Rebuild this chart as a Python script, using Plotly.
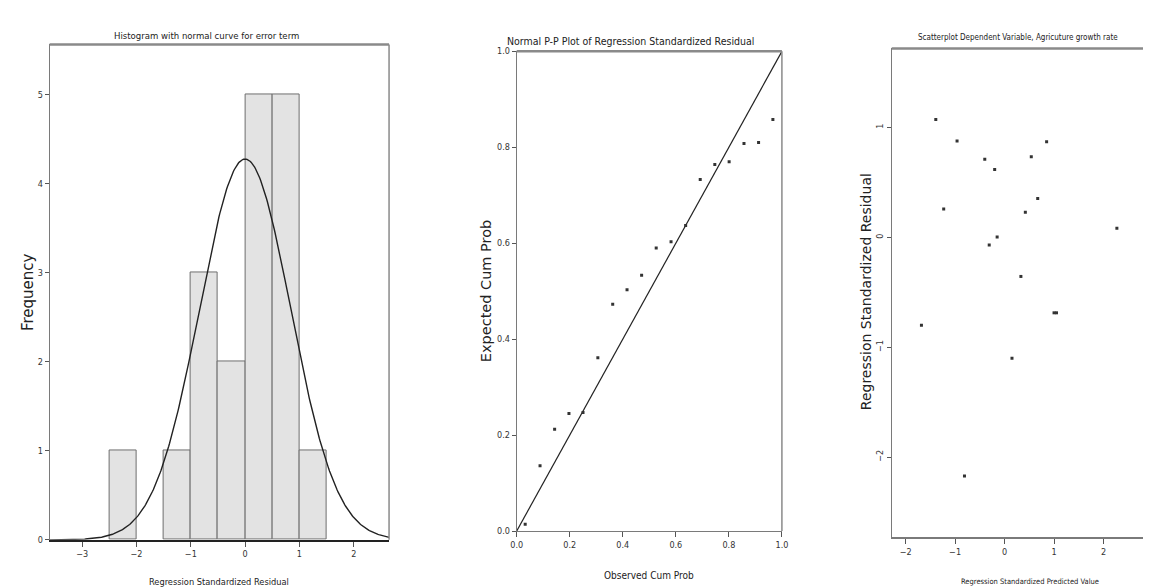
import numpy as np
import plotly.graph_objects as go

W, H = 1151, 587

# ---------- Data ----------
# Histogram of regression standardized residuals
bin_left = [-2.5, -1.5, -1.0, -0.5, 0.0, 0.5, 1.0]
bin_counts = [1, 1, 3, 2, 5, 5, 1]
bin_width = 0.5
resid_mean = 0.0
resid_sd = 0.84
n_obs = 18

# Normal P-P plot
pp_observed = [0.032, 0.088, 0.143, 0.197, 0.250, 0.306, 0.362, 0.416, 0.471,
               0.526, 0.582, 0.637, 0.692, 0.747, 0.801, 0.857, 0.912, 0.966]
pp_expected = [0.014, 0.136, 0.212, 0.245, 0.247, 0.361, 0.473, 0.503, 0.533,
               0.590, 0.603, 0.637, 0.733, 0.764, 0.770, 0.808, 0.810, 0.858]

# Scatterplot: standardized predicted vs standardized residual
pred_std = [-1.39, -0.96, -0.40, -0.20, 0.54, 0.85, -1.23, 0.67, 0.42, -0.15,
            -0.31, 2.27, 0.33, 1.00, 1.05, -1.68, 0.15, -0.81]
resid_std = [1.073, 0.877, 0.712, 0.617, 0.733, 0.870, 0.259, 0.354, 0.229, 0.005,
             -0.069, 0.083, -0.355, -0.686, -0.686, -0.80, -1.10, -2.17]

hist_xticks = [-3, -2, -1, 0, 1, 2]
hist_yticks = [0, 1, 2, 3, 4, 5]
pp_ticks = [0.0, 0.2, 0.4, 0.6, 0.8, 1.0]
sc_xticks = [-2, -1, 0, 1, 2]
sc_yticks = [-2, -1, 0, 1]

# ---------- Layout helpers ----------
def px_x(p):
    return p / W

def px_y(p):
    return (H - p) / H

NARROW = "DejaVu Sans Condensed, Liberation Sans Narrow, Arial Narrow, Liberation Sans, sans-serif"
SANS = "DejaVu Sans, Liberation Sans, Arial, sans-serif"
AX = "#7a7a7a"
DARK = "#222222"

fig = go.Figure()

# Panel 1: histogram
bar_x = [l + bin_width / 2 for l in bin_left]
fig.add_trace(go.Bar(x=bar_x, y=bin_counts, width=[bin_width] * len(bin_counts),
                     marker=dict(color="#e3e3e3", line=dict(color="#6e6e6e", width=1)),
                     xaxis="x", yaxis="y", showlegend=False, hoverinfo="x+y"))
xs = np.linspace(-3.6, 2.65, 400)
ys = n_obs * bin_width / (resid_sd * np.sqrt(2 * np.pi)) * np.exp(-0.5 * ((xs - resid_mean) / resid_sd) ** 2)
fig.add_trace(go.Scatter(x=xs, y=ys, mode="lines", line=dict(color=DARK, width=1.4),
                         xaxis="x", yaxis="y", showlegend=False, hoverinfo="skip"))

# Panel 2: P-P plot
fig.add_trace(go.Scatter(x=[0, 1], y=[0, 1], mode="lines", line=dict(color=DARK, width=1.2),
                         xaxis="x2", yaxis="y2", showlegend=False, hoverinfo="skip"))
fig.add_trace(go.Scatter(x=pp_observed, y=pp_expected, mode="markers",
                         marker=dict(symbol="square", size=3, color="#333333"),
                         xaxis="x2", yaxis="y2", showlegend=False))

# Panel 3: scatterplot
fig.add_trace(go.Scatter(x=pred_std, y=resid_std, mode="markers",
                         marker=dict(symbol="square", size=3, color="#333333"),
                         xaxis="x3", yaxis="y3", showlegend=False))

tickfont = dict(family=NARROW, size=9, color="#333333")

def xaxis(domain, rng, ticks, linecolor, linewidth, anchor, fmt=None):
    d = dict(domain=domain, range=rng, tickmode="array", tickvals=ticks,
             ticks="outside", ticklen=5, tickcolor="#555555", showgrid=False,
             zeroline=False, showline=True, linecolor=linecolor, linewidth=linewidth,
             tickfont=tickfont, anchor=anchor, fixedrange=True)
    if fmt:
        d["ticktext"] = fmt
    return d

fig.update_layout(
    width=W, height=H, margin=dict(l=0, r=0, t=0, b=0),
    paper_bgcolor="white", plot_bgcolor="white", bargap=0,
    xaxis=xaxis([px_x(36), px_x(379)], [-3.6, 2.65], hist_xticks, DARK, 1.6, "y"),
    yaxis=dict(domain=[px_y(536), px_y(32)], range=[0, 5.56], tickmode="array",
               tickvals=hist_yticks, ticks="outside", ticklen=4, tickcolor="#555555",
               showgrid=False, zeroline=False, showline=True, linecolor=AX, linewidth=1,
               tickfont=tickfont, anchor="x", fixedrange=True),
    xaxis2=xaxis([px_x(508), px_x(776)], [0, 1], pp_ticks, AX, 1, "y2",
                 ["%.1f" % t for t in pp_ticks]),
    yaxis2=dict(domain=[px_y(527), px_y(39)], range=[0, 1], tickmode="array",
                tickvals=pp_ticks, ticktext=["%.1f" % t for t in pp_ticks],
                ticks="outside", ticklen=4, tickcolor="#555555",
                showgrid=False, zeroline=False, showline=True, linecolor=AX, linewidth=1,
                tickfont=tickfont, anchor="x2", fixedrange=True),
    xaxis3=xaxis([px_x(887), 1.0], [-2.28, 3.0], sc_xticks, AX, 1.6, "y3"),
    yaxis3=dict(domain=[px_y(533), px_y(36)], range=[-2.725, 1.72], tickmode="array",
                tickvals=sc_yticks, ticks="outside", ticklen=4, tickcolor="#555555",
                showgrid=False, zeroline=False, showline=True, linecolor=AX, linewidth=1,
                tickfont=tickfont, tickangle=-90, anchor="x3", fixedrange=True),
)

# Frame lines (top borders and right borders)
shapes = []
for xr, yr in (("x", "y"), ("x2", "y2"), ("x3", "y3")):
    shapes.append(dict(type="line", xref=xr + " domain", yref=yr + " domain",
                       x0=0, x1=1, y0=1, y1=1, line=dict(color="#8a8a8a", width=2.5)))
for xr, yr in (("x", "y"), ("x2", "y2")):
    shapes.append(dict(type="line", xref=xr + " domain", yref=yr + " domain",
                       x0=1, x1=1, y0=0, y1=1, line=dict(color="#8a8a8a", width=1.5)))
fig.update_layout(shapes=shapes)

# Titles and axis labels
ann = []
def add_text(text, x, y, size, family, angle=0):
    ann.append(dict(text=text, x=px_x(x), y=px_y(y), xref="paper", yref="paper",
                    showarrow=False, textangle=angle, xanchor="center", yanchor="middle",
                    font=dict(family=family, size=size, color="#222222")))

add_text("Histogram with normal curve for error term", 195, 23, 9.5, NARROW)
add_text("Normal P-P Plot of Regression Standardized Residual", 623, 28, 10.5, NARROW)
add_text("Scatterplot Dependent Variable, Agricuture growth rate", 1015, 25, 8, NARROW)

add_text("Regression Standardized Residual", 207, 578, 9.2, NARROW)
add_text("Observed Cum Prob", 642, 572, 10, NARROW)
add_text("Regression Standardized Predicted Value", 1027, 578, 7.5, NARROW)

add_text("Frequency", 14, 284, 15, SANS, -90)
add_text("Expected Cum Prob", 477, 283, 14.5, SANS, -90)
add_text("Regression Standardized Residual", 861, 284, 14, SANS, -90)

fig.update_layout(annotations=ann)

fig.write_html("out.html")
